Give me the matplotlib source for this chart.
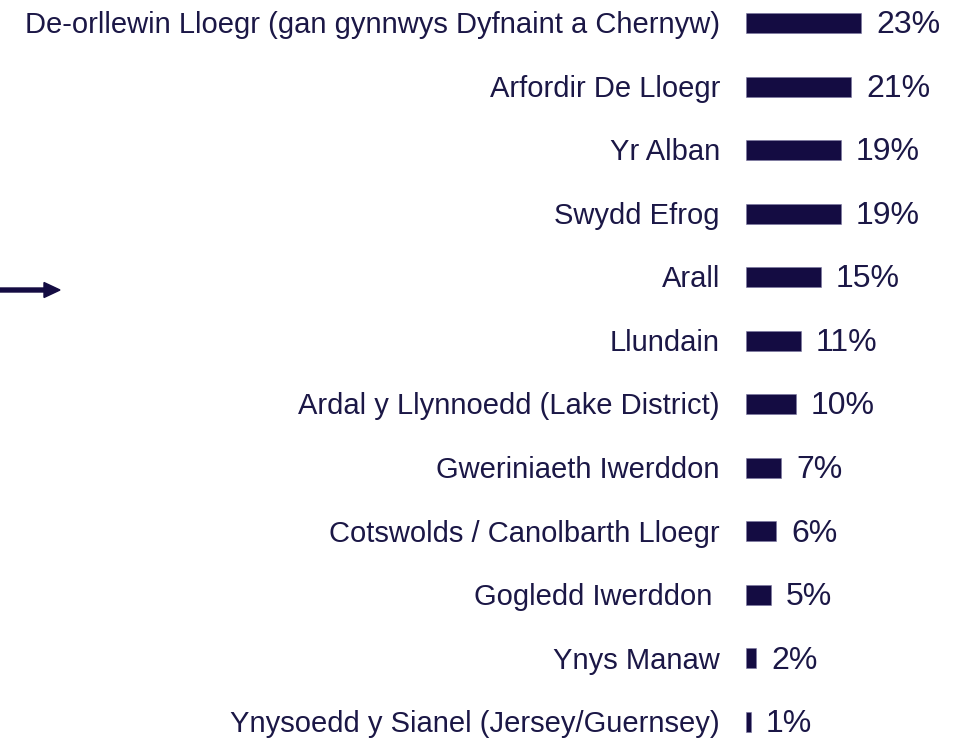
import matplotlib

matplotlib.use("Agg")
import matplotlib.pyplot as plt

# Regions (top to bottom) and the share of respondents for each
regions = [
    "De-orllewin Lloegr (gan gynnwys Dyfnaint a Chernyw)",
    "Arfordir De Lloegr",
    "Yr Alban",
    "Swydd Efrog",
    "Arall",
    "Llundain",
    "Ardal y Llynnoedd (Lake District)",
    "Gweriniaeth Iwerddon",
    "Cotswolds / Canolbarth Lloegr",
    "Gogledd Iwerddon ",
    "Ynys Manaw",
    "Ynysoedd y Sianel (Jersey/Guernsey)",
]
shares = [23, 21, 19, 19, 15, 11, 10, 7, 6, 5, 2, 1]

BAR_COLOR = "#140C42"
TEXT_COLOR = "#1B1746"
W, H = 964, 738

plt.rcParams["font.family"] = ["Liberation Sans", "DejaVu Sans"]

fig = plt.figure(figsize=(W / 100, H / 100), dpi=100)

# axes placed so that 1% = 5 px and rows are ~63.5 px apart
row = 63.55
top_px = 23 - row / 2
bot_px = 722 + row / 2
ax = fig.add_axes([746 / W, (H - bot_px) / H, 215 / W, (bot_px - top_px) / H])
ax.set_xlim(0, 43)
ax.set_ylim(len(regions) - 0.5, -0.5)
ax.axis("off")

y = list(range(len(regions)))
ax.barh(y, shares, height=0.315, color=BAR_COLOR, edgecolor="#7A75A0", linewidth=0.4)

# small downward nudge so the text sits level with the bars
dy = 0.035
for yi, name, val in zip(y, regions, shares):
    ax.text(-5.2, yi + dy, name, ha="right", va="center", fontsize=21,
            color=TEXT_COLOR, clip_on=False)
    ax.text(val + 3.0, yi + dy, f"{val}%", ha="left", va="center", fontsize=23,
            color=TEXT_COLOR, clip_on=False)

# pointer arrow on the left edge
fig.patches.append(matplotlib.patches.FancyArrow(
    0, (H - 290) / H, 60 / W, 0, width=4 / H, head_width=15 / H,
    head_length=16 / W, length_includes_head=True,
    color=BAR_COLOR, transform=fig.transFigure, figure=fig))

fig.savefig("out.png", dpi=100)
